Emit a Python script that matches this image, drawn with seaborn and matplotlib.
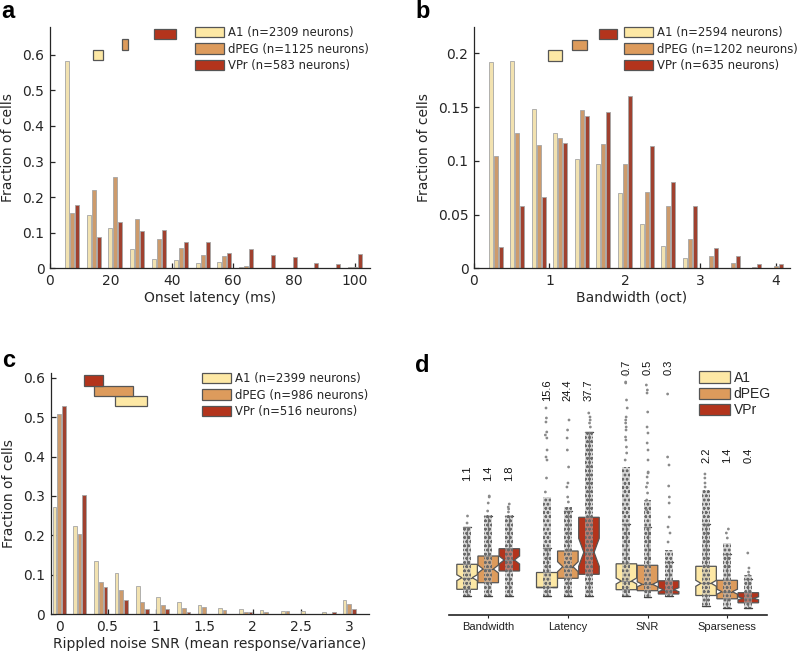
import numpy as np
import pandas as pd
import matplotlib
matplotlib.use("Agg")
import matplotlib.pyplot as plt
import seaborn as sns
from matplotlib.patches import Patch
from matplotlib.ticker import FuncFormatter

# ---------------- data ----------------
regions = ["A1", "dPEG", "VPr"]
colors = ["#FDE8A5", "#DD9B5C", "#B3341C"]

# panel a: onset latency histogram
a_x = [7.1, 14.3, 21.4, 28.6, 35.7, 42.9, 50.0, 57.1, 64.3, 71.4, 78.6, 85.7, 92.9, 100.0]
a_A1 = [0.584, 0.150, 0.113, 0.053, 0.027, 0.022, 0.015, 0.017, 0.004, 0.0, 0.0, 0.0, 0.0, 0.003]
a_dPEG = [0.155, 0.220, 0.256, 0.138, 0.082, 0.058, 0.0375, 0.035, 0.0075, 0.002, 0.0, 0.001, 0.001, 0.003]
a_VPr = [0.178, 0.087, 0.130, 0.106, 0.108, 0.075, 0.073, 0.044, 0.055, 0.0375, 0.032, 0.015, 0.011, 0.040]
a_n = ["2309", "1125", "583"]
a_ci_lo = [14.0, 23.5, 34.2]
a_ci_hi = [17.5, 25.7, 41.2]
a_ci_y = [0.599, 0.629, 0.659]

# panel b: bandwidth histogram
b_x = [0.29, 0.57, 0.86, 1.14, 1.43, 1.71, 2.0, 2.29, 2.57, 2.86, 3.14, 3.43, 3.71, 4.0]
b_A1 = [0.1916, 0.193, 0.148, 0.126, 0.102, 0.097, 0.070, 0.041, 0.021, 0.010, 0.0, 0.0, 0.0, 0.0]
b_dPEG = [0.1045, 0.126, 0.115, 0.121, 0.1476, 0.1157, 0.0967, 0.0707, 0.0577, 0.0276, 0.011, 0.005, 0.001, 0.002]
b_VPr = [0.020, 0.058, 0.066, 0.117, 0.142, 0.145, 0.1606, 0.114, 0.0806, 0.058, 0.019, 0.011, 0.004, 0.004]
b_n = ["2594", "1202", "635"]
b_ci_lo = [0.985, 1.302, 1.66]
b_ci_hi = [1.170, 1.492, 1.89]
b_ci_y = [0.198, 0.2078, 0.2177]

# panel c: rippled noise SNR histogram
c_x = [0.0, 0.21, 0.43, 0.64, 0.86, 1.07, 1.29, 1.5, 1.71, 1.93, 2.14, 2.36, 2.57, 2.79, 3.0]
c_A1 = [0.273, 0.225, 0.134, 0.104, 0.071, 0.044, 0.030, 0.024, 0.015, 0.013, 0.012, 0.009, 0.009, 0.005, 0.037]
c_dPEG = [0.508, 0.204, 0.083, 0.062, 0.030, 0.023, 0.016, 0.019, 0.012, 0.006, 0.005, 0.009, 0.002, 0.0, 0.026]
c_VPr = [0.527, 0.303, 0.070, 0.035, 0.014, 0.014, 0.005, 0.002, 0.002, 0.006, 0.002, 0.0, 0.0, 0.005, 0.013]
c_n = ["2399", "986", "516"]
c_ci_lo = [0.576, 0.362, 0.255]
c_ci_hi = [0.910, 0.759, 0.448]
c_ci_y = [0.540, 0.567, 0.593]

# panel d: normalised box plot summaries (rows: metric, cols: A1, dPEG, VPr)
d_metrics = ["Bandwidth", "Latency", "SNR", "Sparseness"]
d_lo = [[19.3, 19.3, 19.3], [19.3, 19.3, 19.3], [19.0, 18.3, 19.3], [9.0, 7.3, 7.3]]
d_q1 = [[25.7, 32.3, 44.0], [27.7, 36.7, 40.7], [25.3, 24.3, 21.0], [19.5, 16.2, 12.2]]
d_med = [[37.3, 46.0, 55.0], [27.7, 48.3, 62.7], [34.0, 30.7, 25.3], [31.7, 23.3, 16.7]]
d_q3 = [[50.7, 59.0, 66.3], [43.3, 64.0, 97.7], [51.2, 49.7, 34.2], [48.7, 34.7, 22.3]]
d_hi = [[87.7, 99.3, 99.3], [67.3, 104.0, 183.3], [90.7, 88.3, 53.0], [90.7, 61.0, 36.3]]
d_notch = [[3.0, 4.0, 4.0], [0.0, 5.0, 14.0], [3.0, 2.5, 2.0], [3.0, 2.5, 1.5]]
d_dense_top = [[88, 100, 100], [118, 108, 183], [148, 115, 65], [125, 72, 40]]
d_values = [["1.1", "1.4", "1.8"], ["15.6", "24.4", "37.7"], ["0.7", "0.5", "0.3"], ["2.2", "1.4", "0.4"]]
d_value_y = [142, 225, 248, 160]
d_sparse_bw = [[92, 99], [104, 112, 118, 119], [103, 106, 108, 111]]
d_sparse_lat = [[123, 137, 155, 158, 165, 177, 180, 183, 193, 197, 207],
                [113, 118, 128, 132, 148, 165, 177, 185, 195],
                [188, 192, 195, 198, 202]]
d_sparse_snr = [[155, 162, 168, 175, 178, 185, 188, 192, 195, 198, 207, 215, 232, 233, 240],
                [105, 115, 122, 128, 132, 138, 142, 143, 155, 165, 172, 182, 188, 203, 222, 225, 230],
                [73, 82, 88, 98, 112, 118, 129, 150, 158, 221]]
d_sparse_sp = [[128, 132, 137, 141], [77, 82, 86], [40, 43, 47, 62]]

# ---------------- style ----------------
sns.set_style("ticks")
plt.rcParams["font.family"] = ["DejaVu Sans"]
plt.rcParams["hatch.linewidth"] = 0.7
AX_COL = "#262626"
EDGE = "#555555"

fig = plt.figure(figsize=(8.0, 6.57), dpi=100)
W, H = 800.0, 657.0


def fa(left, top, right, bottom):
    return [left / W, 1 - bottom / H, (right - left) / W, (bottom - top) / H]


def fmt(v, p):
    return f"{v:g}"


def hist_panel(ax, xs, series, ns, ci_lo, ci_hi, ci_y, ci_h, xlim, ylim, xticks, yticks, xlabel,
               leg_xy):
    df = pd.DataFrame({
        "x": np.tile(xs, 3),
        "frac": np.concatenate(series),
        "region": np.repeat(regions, len(xs)),
    })
    sns.barplot(data=df, x="x", y="frac", hue="region", hue_order=regions, palette=colors,
                native_scale=True, width=0.69, gap=0.2, errorbar=None,
                edgecolor="#a5a5a5", linewidth=0.6, legend=False, ax=ax)
    ax.barh(y=ci_y, width=np.subtract(ci_hi, ci_lo), left=ci_lo, height=ci_h,
            color=colors, edgecolor=EDGE, linewidth=0.9, zorder=4)
    ax.set_xlim(*xlim)
    ax.set_ylim(*ylim)
    ax.set_xticks(xticks)
    ax.set_yticks(yticks)
    ax.xaxis.set_major_formatter(FuncFormatter(fmt))
    ax.yaxis.set_major_formatter(FuncFormatter(fmt))
    ax.tick_params(direction="in", length=3.5, width=0.9, colors=AX_COL, labelsize=10, pad=4)
    for s in ["top", "right"]:
        ax.spines[s].set_visible(False)
    for s in ["left", "bottom"]:
        ax.spines[s].set_color(AX_COL)
        ax.spines[s].set_linewidth(0.9)
    ax.set_xlabel(xlabel, fontsize=10, color=AX_COL, labelpad=2)
    ax.set_ylabel("Fraction of cells", fontsize=10, color=AX_COL, labelpad=5)
    handles = [Patch(facecolor=c, edgecolor=EDGE, linewidth=0.9) for c in colors]
    labels = [f"{r} (n={n} neurons)" for r, n in zip(regions, ns)]
    fig.legend(handles, labels, loc="upper left",
               bbox_to_anchor=(leg_xy[0] / W, 1 - leg_xy[1] / H), frameon=False,
               fontsize=8.4, handlelength=2.5, handleheight=1.0, handletextpad=0.3,
               labelspacing=0.3, borderpad=0, borderaxespad=0)


ax_a = fig.add_axes(fa(50, 26.7, 370, 268.3))
hist_panel(ax_a, a_x, [a_A1, a_dPEG, a_VPr], a_n, a_ci_lo, a_ci_hi, a_ci_y, 0.029,
           (0, 104.9), (0, 0.679), [0, 20, 40, 60, 80, 100], [0, 0.1, 0.2, 0.3, 0.4, 0.5, 0.6],
           "Onset latency (ms)", (195, 26))

ax_b = fig.add_axes(fa(474, 26.7, 790, 268.3))
hist_panel(ax_b, b_x, [b_A1, b_dPEG, b_VPr], b_n, b_ci_lo, b_ci_hi, b_ci_y, 0.0095,
           (0, 4.186), (0, 0.2247), [0, 1, 2, 3, 4], [0, 0.05, 0.1, 0.15, 0.2],
           "Bandwidth (oct)", (624, 26))

ax_c = fig.add_axes(fa(50.7, 372.7, 369.3, 614.3))
hist_panel(ax_c, c_x, [c_A1, c_dPEG, c_VPr], c_n, c_ci_lo, c_ci_hi, c_ci_y, 0.026,
           (-0.088, 3.207), (0, 0.6126), [0, 0.5, 1, 1.5, 2, 2.5, 3],
           [0, 0.1, 0.2, 0.3, 0.4, 0.5, 0.6],
           "Rippled noise SNR (mean response/variance)", (202, 372))

# ---------------- panel d ----------------
ax_d = fig.add_axes(fa(449, 350, 767, 615))
sparse_all = [d_sparse_bw, d_sparse_lat, d_sparse_snr, d_sparse_sp]
rows = []
for m, per_region in zip(d_metrics, sparse_all):
    for r, vals in zip(regions, per_region):
        for v in vals:
            rows.append({"metric": m, "region": r, "value": v})
df_d = pd.DataFrame(rows)

offsets = [-0.265, 0.0, 0.265]
positions, stats, dense_lo, dense_h, box_cols = [], [], [], [], []
for i in range(len(d_metrics)):
    for j in range(3):
        positions.append(i + offsets[j])
        stats.append(dict(med=d_med[i][j], q1=d_q1[i][j], q3=d_q3[i][j],
                          whislo=d_lo[i][j], whishi=d_hi[i][j],
                          cilo=d_med[i][j] - d_notch[i][j], cihi=d_med[i][j] + d_notch[i][j],
                          fliers=[]))
        dense_lo.append(d_lo[i][j])
        dense_h.append(d_dense_top[i][j] - d_lo[i][j])
        box_cols.append(colors[j])

bp = ax_d.bxp(stats, positions=positions, widths=0.258, capwidths=0.1, shownotches=True,
              patch_artist=True, showfliers=False, manage_ticks=False,
              boxprops=dict(edgecolor=EDGE, linewidth=0.9),
              medianprops=dict(color=EDGE, linewidth=0.9),
              whiskerprops=dict(color="#444444", linewidth=0.9),
              capprops=dict(color="#444444", linewidth=1.0))
for patch, c in zip(bp["boxes"], box_cols):
    patch.set_facecolor(c)
    patch.set_zorder(2)

ax_d.bar(positions, dense_h, bottom=dense_lo, width=0.1, facecolor=(0.72, 0.72, 0.72, 0.55),
         edgecolor="#6a6a6a", hatch="oooo", linewidth=0, zorder=3)

np.random.seed(3)
sns.stripplot(data=df_d, x="metric", y="value", hue="region", order=d_metrics,
              hue_order=regions, palette=["#8a8a8a"] * 3, dodge=True, jitter=0.05,
              size=2.0, linewidth=0, legend=False, ax=ax_d, zorder=4)

for i in range(len(d_metrics)):
    for j in range(3):
        ax_d.text(i + offsets[j], d_value_y[i], d_values[i][j], rotation=90,
                  ha="center", va="center", fontsize=8, family="Liberation Sans",
                  color="#111111")

ax_d.set_xlim(-0.492, 3.5)
ax_d.set_ylim(0, 265)
ax_d.set_xticks(range(len(d_metrics)))
ax_d.set_xticklabels(d_metrics, family="Liberation Sans", fontsize=8)
ax_d.set_yticks([])
ax_d.set_xlabel("")
ax_d.set_ylabel("")
for s in ["top", "right", "left"]:
    ax_d.spines[s].set_visible(False)
ax_d.spines["bottom"].set_color("#222222")
ax_d.spines["bottom"].set_linewidth(1.2)
ax_d.tick_params(axis="x", direction="out", length=2, width=0.8, colors="#222222", pad=3)

handles_d = [Patch(facecolor=c, edgecolor=EDGE, linewidth=0.9) for c in colors]
fig.legend(handles_d, regions, loc="upper left", bbox_to_anchor=(699 / W, 1 - 371 / H),
           frameon=False, prop=dict(family="Liberation Sans", size=10),
           handlelength=2.25, handleheight=0.9, handletextpad=0.25, labelspacing=0.15,
           borderpad=0, borderaxespad=0)

# panel letters
for letter, x, y in [("a", 1, 18), ("b", 415, 18), ("c", 2, 367), ("d", 415, 372)]:
    fig.text(x / W, 1 - y / H, letter, fontsize=17, fontweight="bold",
             family="Liberation Sans", va="baseline", ha="left", color="black")

fig.savefig("out.png", dpi=100)
